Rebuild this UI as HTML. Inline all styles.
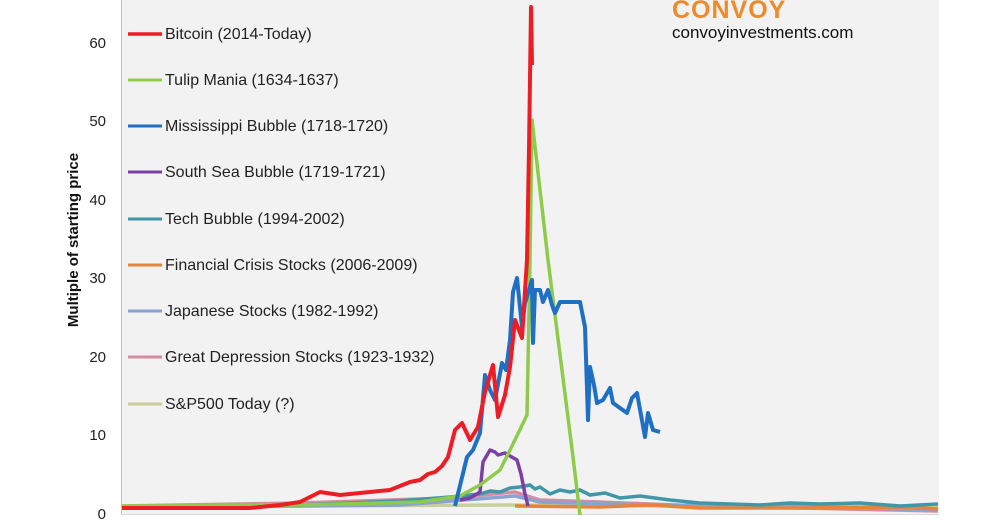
<!DOCTYPE html>
<html><head><meta charset="utf-8"><style>
html,body{margin:0;padding:0;background:#fff;}
body{width:1006px;height:528px;overflow:hidden;position:relative;font-family:"Liberation Sans",sans-serif;}
</style></head><body>
<svg width="1006" height="528" style="position:absolute;left:0;top:0" font-family="Liberation Sans, sans-serif">
<rect x="121" y="0" width="818" height="514" fill="#f2f2f2"/>
<line x1="121.5" y1="0" x2="121.5" y2="514" stroke="#bfbfbf" stroke-width="1"/>
<line x1="121" y1="514.5" x2="939" y2="514.5" stroke="#d9d9d9" stroke-width="1"/>
<g font-size="15" fill="#222" text-anchor="end">
<text x="106" y="48">60</text>
<text x="106" y="126">50</text>
<text x="106" y="205">40</text>
<text x="106" y="283">30</text>
<text x="106" y="362">20</text>
<text x="106" y="440">10</text>
<text x="106" y="519">0</text>
</g>
<text transform="translate(78,240) rotate(-90)" font-size="15" font-weight="bold" text-anchor="middle" fill="#111">Multiple of starting price</text>
<text x="672" y="18" font-size="25" font-weight="bold" fill="#ee8a2a" letter-spacing="1">CONVOY</text>
<text x="672" y="38" font-size="17" fill="#111">convoyinvestments.com</text>
<g fill="none" stroke-width="3.5" stroke-linejoin="round">
<polyline stroke="#c9cf9a" points="122,507 300,506 500,505 700,506 938,507"/>
<polyline stroke="#d48ea0" points="122,506 300,503 450,498 515,492 540,500 600,502 700,506 800,508 938,511"/>
<polyline stroke="#8aa3d0" points="122,507 300,506 400,505 515,496 540,502 650,505 800,506 938,510"/>
<polyline stroke="#e8833a" points="515,506 600,507 650,505 700,508 800,508 900,507 938,509"/>
<polyline stroke="#3f97a8" points="122,507 300,505 400,501 450,497 480,494 490,491 500,492 510,488 520,487 530,485 535,489 540,487 550,494 560,490 570,492 580,490 590,495 605,493 620,498 640,496 670,500 700,503 760,505 790,503 820,504 860,503 900,506 938,504"/>
<polyline stroke="#7b3fa6" points="460,500 470,498 480,492 483,462 490,450 495,452 498,455 505,453 510,456 517,460 521,474 525,494 528,506"/>
<polyline stroke="#8fcb4a" points="122,506 300,505 420,502 460,496 480,485 500,470 512,446 527,415 530,260 532,120 548,260 573,457 580,515"/>
<polyline stroke="#1f6fc4" stroke-width="4" points="455,506 467,457 473,450 480,433 485,375 490,390 495,400 502,363 506,370 510,340 513,292 517,278 522,327 525,303 532,280 533,343 535,290 540,290 543,302 548,290 552,305 555,313 560,302 580,302 585,327 588,420 590,367 594,385 597,403 603,400 610,388 613,403 620,408 627,413 632,398 637,393 645,437 648,413 653,430 660,432"/>
<polyline stroke="#ee1c25" stroke-width="4" points="122,508 200,508 250,508 280,505 300,502 320,492 340,495 360,493 390,490 400,486 410,482 420,480 428,474 435,472 442,466 448,457 455,430 462,423 470,440 478,427 485,392 493,365 498,417 505,395 510,367 515,320 522,338 527,260 529,150 531,7 532,65"/>
</g>
<g font-size="16" fill="#222">
<line x1="128" y1="34" x2="162" y2="34" stroke="#ee1c25" stroke-width="3.5"/><text x="165" y="39">Bitcoin (2014-Today)</text>
<line x1="128" y1="80" x2="162" y2="80" stroke="#8fcb4a" stroke-width="3"/><text x="165" y="85">Tulip Mania (1634-1637)</text>
<line x1="128" y1="126" x2="162" y2="126" stroke="#1f6fc4" stroke-width="3"/><text x="165" y="131">Mississippi Bubble (1718-1720)</text>
<line x1="128" y1="172" x2="162" y2="172" stroke="#7b3fa6" stroke-width="3"/><text x="165" y="177">South Sea Bubble (1719-1721)</text>
<line x1="128" y1="219" x2="162" y2="219" stroke="#3f97a8" stroke-width="3"/><text x="165" y="224">Tech Bubble (1994-2002)</text>
<line x1="128" y1="265" x2="162" y2="265" stroke="#e8833a" stroke-width="3"/><text x="165" y="270">Financial Crisis Stocks (2006-2009)</text>
<line x1="128" y1="311" x2="162" y2="311" stroke="#8aa3d0" stroke-width="3"/><text x="165" y="316">Japanese Stocks (1982-1992)</text>
<line x1="128" y1="357" x2="162" y2="357" stroke="#d48ea0" stroke-width="3"/><text x="165" y="362">Great Depression Stocks (1923-1932)</text>
<line x1="128" y1="404" x2="162" y2="404" stroke="#c9cf9a" stroke-width="3"/><text x="165" y="409">S&amp;P500 Today (?)</text>
</g>
</svg>
</body></html>
